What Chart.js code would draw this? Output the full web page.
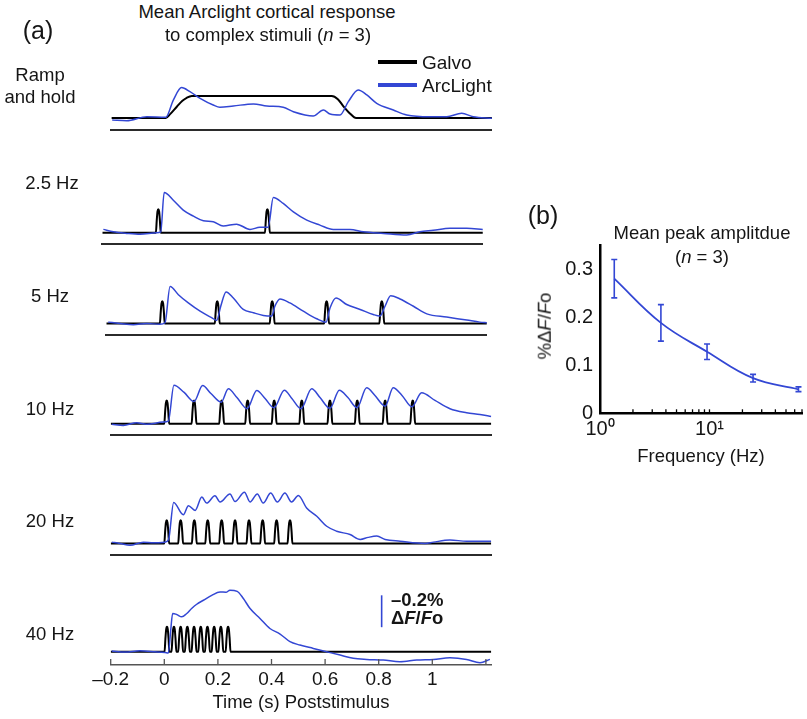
<!DOCTYPE html>
<html>
<head>
<meta charset="utf-8">
<script src="https://cdn.jsdelivr.net/npm/chart.js@4"></script>
<style>
  html,body{margin:0;padding:0;background:#fff;}
  body{width:807px;height:719px;position:relative;overflow:hidden;font-family:"Liberation Sans",Arial,Helvetica,sans-serif;color:#151515;}
  canvas{position:absolute;}
  .t{position:absolute;white-space:nowrap;font-size:18.5px;line-height:1;transform:translate(-50%,-50%);}
  .l{transform:translate(0,-50%);}
  .sw{position:absolute;height:4px;}
</style>
</head>
<body>
<script>
// ---------------- DATA ----------------
// Panel (a): time in s (relative to stimulus onset), ArcLight in %ΔF/Fo, Galvo in normalized position
const timeRamp = [-0.197,-0.143,-0.068,0.003,0.031,0.062,0.093,0.131,0.18,0.205,0.255,0.33,0.38,0.441,0.479,0.553,0.591,0.616,0.653,0.684,0.721,0.753,0.79,0.852,0.902,0.989,1.051,1.107,1.15,1.22];
const arcRamp  = [-0.012,-0.017,0.008,0.004,0.112,0.19,0.165,0.123,0.081,0.067,0.075,0.088,0.075,0.067,0.039,0.012,0.05,0.025,0.019,0.102,0.175,0.144,0.092,0.05,0.019,0.008,0.008,0.029,0.008,-0.002];
const galvoRampTime = [-0.2,0.003,0.02,0.044,0.065,0.081,0.1,0.622,0.645,0.665,0.69,0.713,1.22];
const galvoRampPos  = [0,0,0.18,0.49,0.75,0.88,0.96,0.96,0.82,0.52,0.2,0,0];

const time2p5 = [-0.196,-0.159,-0.109,-0.059,0.003,0.018,0.031,0.065,0.102,0.14,0.177,0.214,0.251,0.301,0.351,0.388,0.419,0.438,0.475,0.513,0.563,0.612,0.662,0.724,0.774,0.849,0.936,0.985,1.035,1.097,1.16,1.22];
const arc2p5  = [0.021,0.006,-0.004,-0.01,0,0.006,0.252,0.204,0.142,0.104,0.075,0.069,0.042,0.054,0.021,0.034,0.034,0.221,0.184,0.131,0.079,0.048,0.021,0.021,0.006,-0.004,-0.014,0.006,0.015,0.028,0.028,0.021];
const pulses2p5 = [0.009,0.416];

const time5 = [-0.193,-0.149,-0.099,-0.049,0,0.019,0.038,0.069,0.106,0.15,0.193,0.212,0.227,0.247,0.274,0.311,0.349,0.386,0.417,0.429,0.448,0.485,0.535,0.585,0.62,0.635,0.657,0.697,0.747,0.796,0.821,0.84,0.861,0.896,0.946,0.996,1.07,1.145,1.194,1.22];
const arc5  = [0.008,0,-0.008,0,-0.006,0.004,0.233,0.181,0.129,0.077,0.036,0.019,0.108,0.198,0.16,0.088,0.067,0.05,0.046,0.108,0.154,0.129,0.077,0.029,0.008,0.098,0.16,0.119,0.088,0.056,0.046,0.108,0.175,0.154,0.108,0.06,0.04,0.021,0.008,0.004];
const pulses5 = [0.009,0.214,0.419,0.622,0.828];

const time10 = [-0.196,-0.153,-0.103,-0.066,-0.004,0.015,0.036,0.074,0.111,0.143,0.174,0.212,0.239,0.271,0.309,0.345,0.376,0.409,0.448,0.476,0.51,0.55,0.581,0.618,0.653,0.685,0.719,0.755,0.786,0.824,0.854,0.887,0.924,0.96,1.01,1.066,1.128,1.178,1.22];
const arc10  = [-0.004,-0.011,0.006,-0.004,0.01,0.016,0.241,0.196,0.139,0.239,0.189,0.135,0.219,0.164,0.094,0.208,0.158,0.1,0.21,0.158,0.094,0.219,0.164,0.096,0.21,0.164,0.1,0.225,0.177,0.11,0.225,0.177,0.106,0.194,0.146,0.094,0.069,0.058,0.045];
const pulses10 = [0.009,0.111,0.214,0.311,0.41,0.513,0.618,0.72,0.824,0.927];

const time20 = [-0.196,-0.165,-0.128,-0.078,-0.041,0.003,0.016,0.035,0.071,0.09,0.115,0.14,0.158,0.189,0.208,0.245,0.264,0.299,0.32,0.347,0.369,0.397,0.422,0.45,0.475,0.5,0.531,0.569,0.606,0.643,0.693,0.731,0.761,0.793,0.824,0.88,0.973,1.004,1.066,1.128,1.22];
const arc20  = [0.008,0,-0.012,0.008,0.004,0.008,0.025,0.258,0.181,0.238,0.208,0.292,0.254,0.3,0.261,0.312,0.264,0.323,0.261,0.312,0.254,0.317,0.261,0.317,0.261,0.302,0.223,0.171,0.108,0.077,0.056,0.025,0.038,0.046,0.025,0.014,0,0.008,0.021,0.014,0.014];
const pulses20 = [0.009,0.061,0.112,0.162,0.214,0.264,0.316,0.367,0.419,0.469];

const time40 = [-0.196,-0.147,-0.091,-0.035,0.003,0.015,0.024,0.031,0.046,0.065,0.084,0.102,0.121,0.146,0.177,0.208,0.23,0.245,0.272,0.295,0.32,0.357,0.394,0.432,0.469,0.506,0.556,0.606,0.656,0.705,0.755,0.817,0.879,0.942,1.004,1.066,1.128,1.178,1.215];
const arc40  = [0.004,-0.002,0.006,0,-0.005,-0.008,0.136,0.24,0.234,0.219,0.24,0.271,0.298,0.323,0.354,0.375,0.373,0.386,0.379,0.334,0.271,0.209,0.146,0.111,0.063,0.042,0.021,0,-0.021,-0.041,-0.048,-0.052,-0.063,-0.052,-0.048,-0.038,-0.048,-0.069,-0.048];
const pulses40 = [0.01,0.036,0.061,0.086,0.111,0.136,0.161,0.186,0.211,0.238];

const galvoAmp = [0.96,1.03,0.97,1.01,1.01,1.09];
const rowLabels = [["Ramp","and hold"],["2.5 Hz"],["5 Hz"],["10 Hz"],["20 Hz"],["40 Hz"]];
const timeTicks = [-0.2,0,0.2,0.4,0.6,0.8,1,1.2];
const timeTickLabels = ["\u20130.2","0","0.2","0.4","0.6","0.8","1",""];
const scaleBarPct = 0.2;

// Panel (b)
const freqHz  = [1.35,3.6,9.5,25,65];
const peakAmp = [0.28,0.188,0.128,0.073,0.05];
const peakSem = [0.04,0.038,0.016,0.008,0.005];
const ampTicks = [0,0.1,0.2,0.3];
const ampTickLabels = ["0","0.1","0.2","0.3"];
const freqTicks = [1,2,3,4,5,6,7,8,9,10,20,30,40,50,60,70];

// ---------------- STYLE / LAYOUT ----------------
const BLUE = '#3347d4';
const PX_PER_PCT = 160, GALVO_PX = 23;
const T_MIN = -0.2, T_MAX = 1.22, PX_PER_S = 268;
const AREA_W = (T_MAX - T_MIN) * PX_PER_S;
const rowLayout = [
  {left:111.4, base:118,   lower:130,   lab:[[40,75],[40,97]]},
  {left:102.3, base:232.7, lower:244,   lab:[[52,183]]},
  {left:106.3, base:324,   lower:335.7, lab:[[50,296]]},
  {left:110.7, base:424.3, lower:435.7, lab:[[50,409]]},
  {left:110.7, base:544,   lower:555.7, lab:[[50,521]]},
  {left:110.7, base:651.7, lower:665,   lab:[[50,634]]}
];
const pulseDt    = [-0.009,-0.006,-0.003,0,0.003,0.006,0.009];
const pulseShape = [0,0.5,0.9,1,0.9,0.5,0];

Chart.defaults.font.family = '"Liberation Sans", Arial, Helvetica, sans-serif';
Chart.defaults.font.size = 18.5;
Chart.defaults.color = '#151515';

function text(html, cx, cy, extra, cls){
  const d = document.createElement('div');
  d.className = 't' + (cls ? ' ' + cls : '');
  d.innerHTML = html;
  d.style.left = cx + 'px'; d.style.top = cy + 'px';
  if (extra) Object.assign(d.style, extra);
  document.body.appendChild(d);
  return d;
}
function pts(xs, ys){ return xs.map((x,i)=>({x, y:ys[i]})); }
function pulseTrain(times, amp){
  const out = [{x:T_MIN, y:0}];
  times.forEach(t => pulseDt.forEach((dt,k) => out.push({x:t+dt, y:amp*pulseShape[k]})));
  out.push({x:T_MAX, y:0});
  return out;
}

const rowSeries = [
  {t:timeRamp, v:arcRamp, galvo: pts(galvoRampTime, galvoRampPos.map(p=>p*galvoAmp[0]/0.96))},
  {t:time2p5, v:arc2p5, galvo: pulseTrain(pulses2p5, galvoAmp[1])},
  {t:time5,   v:arc5,   galvo: pulseTrain(pulses5,   galvoAmp[2])},
  {t:time10,  v:arc10,  galvo: pulseTrain(pulses10,  galvoAmp[3])},
  {t:time20,  v:arc20,  galvo: pulseTrain(pulses20,  galvoAmp[4])},
  {t:time40,  v:arc40,  galvo: pulseTrain(pulses40,  galvoAmp[5])}
];

function makeRow(i){
  const L = rowLayout[i], S = rowSeries[i];
  const bottom = (i === rowLayout.length - 1);
  const top = L.base - 78;
  const H = bottom ? (719 - top) : (L.lower - top + 4);
  const AXIS_H = 49.1;
  const c = document.createElement('canvas');
  c.width = 807; c.height = H; c.style.left = '0px'; c.style.top = top + 'px';
  document.body.appendChild(c);
  const yMin = -(L.lower - L.base) / PX_PER_PCT, yMax = 72 / PX_PER_PCT;
  const g = PX_PER_PCT / GALVO_PX;
  const plugins = [];
  if (bottom) {
    plugins.push({
      id:'inwardTicks',
      afterDraw(chart){
        const s = chart.scales.x, ctx = chart.ctx, b = chart.chartArea.bottom;
        ctx.save(); ctx.strokeStyle = '#555'; ctx.lineWidth = 1.3;
        s.ticks.forEach(tk => {
          const px = s.getPixelForValue(tk.value);
          ctx.beginPath(); ctx.moveTo(px, b); ctx.lineTo(px, b - 6); ctx.stroke();
        });
        ctx.restore();
      }
    });
    plugins.push({
      id:'scaleBar',
      afterDatasetsDraw(chart){
        const x = chart.scales.x.getPixelForValue(0.811);
        const y0 = chart.scales.y.getPixelForValue(0.154);
        const y1 = chart.scales.y.getPixelForValue(0.154 + scaleBarPct);
        const ctx = chart.ctx;
        ctx.save(); ctx.strokeStyle = BLUE; ctx.lineWidth = 1.6;
        ctx.beginPath(); ctx.moveTo(x, y0); ctx.lineTo(x, y1); ctx.stroke(); ctx.restore();
      }
    });
  }
  new Chart(c, {
    type:'line',
    data:{datasets:[
      {label:'Galvo', data:S.galvo, yAxisID:'yg', borderColor:'#000', borderWidth:2, pointRadius:0,
       cubicInterpolationMode:'monotone', order:1},
      {label:'ArcLight', data:pts(S.t, S.v), yAxisID:'y', borderColor:BLUE, borderWidth:1.5, pointRadius:0,
       cubicInterpolationMode:'monotone', order:0}
    ]},
    options:{
      responsive:false, animation:false, devicePixelRatio:1, events:[],
      layout:{padding:{left:L.left, right:807 - L.left - AREA_W, top:6,
                       bottom: bottom ? (H - (L.lower - top) - AXIS_H) : (H - (L.lower - top))}},
      plugins:{legend:{display:false}, tooltip:{enabled:false}},
      scales:{
        x:{type:'linear', min:T_MIN, max:T_MAX,
           grid:{display:false, drawTicks:false},
           border:{display:true, color: bottom ? '#555' : '#2b2b2b', width: bottom ? 1.5 : 2},
           afterBuildTicks: s => { s.ticks = timeTicks.map(v => ({value:v})); },
           afterFit: s => { s.height = bottom ? AXIS_H : 0; },
           ticks: bottom ? {display:true, autoSkip:false, maxRotation:0, padding:3, font:{size:19},
                            callback:(v,idx)=> timeTickLabels[idx]} : {display:false},
           title: bottom ? {display:true, text:'Time (s) Poststimulus', padding:{top:0,bottom:0},
                            font:{size:18.5}} : {display:false}},
        y:{type:'linear', display:false, min:yMin, max:yMax},
        yg:{type:'linear', display:false, min:yMin*g, max:yMax*g}
      }
    },
    plugins
  });
  L.lab.forEach((p, k) => text(rowLabels[i][k], p[0], p[1]));
}
rowLayout.forEach((_, i) => makeRow(i));

// ----- Panel (a) texts & legend -----
text('(a)', 38, 30, {fontSize:'25px'});
text('Mean Arclight cortical response', 267, 12);
text('to complex stimuli (<i>n</i> = 3)', 268, 35);
[['#000', 'Galvo', 62], [BLUE, 'ArcLight', 85]].forEach(([col, lab, y]) => {
  const s = document.createElement('div');
  s.className = 'sw'; s.style.background = col; s.style.left = '378px'; s.style.width = '39px';
  s.style.top = (y - 2) + 'px';
  document.body.appendChild(s);
  text(lab, 422, y, {fontSize:'19px'}, 'l');
});
text('\u20130.2%', 391, 600, {fontWeight:'bold'}, 'l');
text('\u0394<i>F</i>/<i>F</i>o', 391, 618, {fontWeight:'bold'}, 'l');

// ----- Panel (b) -----
(function(){
  const c = document.createElement('canvas');
  c.width = 307; c.height = 280; c.style.left = '500px'; c.style.top = '200px';
  document.body.appendChild(c);
  const errPlugin = {
    id:'errBars',
    afterDatasetsDraw(chart){
      const xs = chart.scales.x, ys = chart.scales.y, ctx = chart.ctx;
      ctx.save(); ctx.strokeStyle = BLUE; ctx.lineWidth = 1.6;
      freqHz.forEach((f, i) => {
        const x = xs.getPixelForValue(f);
        const y0 = ys.getPixelForValue(peakAmp[i] - peakSem[i]);
        const y1 = ys.getPixelForValue(peakAmp[i] + peakSem[i]);
        ctx.beginPath();
        ctx.moveTo(x, y0); ctx.lineTo(x, y1);
        ctx.moveTo(x - 3, y0); ctx.lineTo(x + 3, y0);
        ctx.moveTo(x - 3, y1); ctx.lineTo(x + 3, y1);
        ctx.stroke();
      });
      ctx.restore();
    },
    afterDraw(chart){
      const xs = chart.scales.x, ctx = chart.ctx, b = chart.chartArea.bottom;
      ctx.save(); ctx.strokeStyle = '#000'; ctx.lineWidth = 1.3;
      xs.ticks.forEach(tk => {
        if (tk.value <= 1) return;
        const px = xs.getPixelForValue(tk.value);
        ctx.beginPath(); ctx.moveTo(px, b); ctx.lineTo(px, b - 4); ctx.stroke();
      });
      ctx.restore();
    }
  };
  new Chart(c, {
    type:'line',
    data:{datasets:[{label:'Mean peak amplitude', data:pts(freqHz, peakAmp), borderColor:BLUE, borderWidth:1.8,
                     pointRadius:0, tension:0.4}]},
    options:{
      responsive:false, animation:false, devicePixelRatio:1, events:[],
      layout:{padding:{left:0, right:5, top:45, bottom:12.2}},
      plugins:{legend:{display:false}, tooltip:{enabled:false}},
      scales:{
        x:{type:'logarithmic', min:1, max:70,
           grid:{display:false, drawTicks:false},
           border:{display:true, color:'#000', width:2.5},
           afterBuildTicks: s => { s.ticks = freqTicks.map(v => ({value:v})); },
           afterFit: s => { s.height = 54.5; },
           ticks:{autoSkip:false, maxRotation:0, padding:4, font:{size:20},
                  callback:(v)=> v === 1 ? '10\u2070' : (v === 10 ? '10\u00b9' : '')},
           title:{display:true, text:'Frequency (Hz)', padding:{top:0,bottom:0}, font:{size:18.5}}},
        y:{type:'linear', min:0, max:0.35,
           grid:{display:false, drawTicks:false},
           border:{display:true, color:'#000', width:2.5},
           afterBuildTicks: s => { s.ticks = ampTicks.map(v => ({value:v})); },
           afterFit: s => { s.width = 100; },
           ticks:{padding:7, font:{size:20}, callback:(v, idx)=> ampTickLabels[idx]}}
      }
    },
    plugins:[errPlugin]
  });
  text('(b)', 543, 215, {fontSize:'25px'});
  text('Mean peak amplitdue', 702, 233);
  text('(<i>n</i> = 3)', 702, 257);
  text('%\u0394<i>F</i>/<i>F</i>o', 545, 326, {transform:'translate(-50%,-50%) rotate(-90deg)'});
})();
</script>
</body>
</html>
